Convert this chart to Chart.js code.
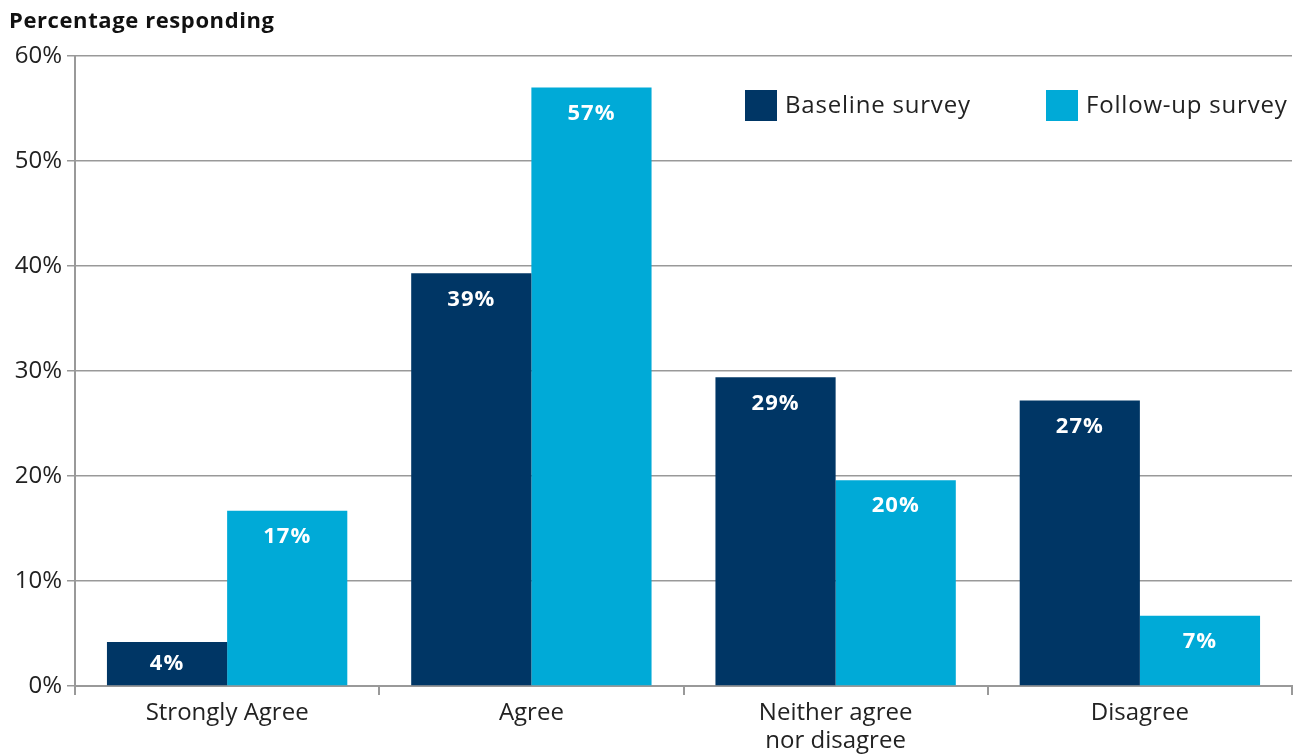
<!DOCTYPE html>
<html>
<head>
<meta charset="utf-8">
<script src="https://cdn.jsdelivr.net/npm/chart.js@4"></script>
<style>
  html, body { margin: 0; padding: 0; background: #fff; }
  #wrap { width: 1301px; height: 754px; }
</style>
</head>
<body>
<div id="wrap"><canvas id="surveyChart" width="1301" height="754"></canvas></div>
<script>
const categories = ["Strongly Agree", "Agree", ["Neither agree", "nor disagree"], "Disagree"];
const baseline = [4.2, 39.3, 29.4, 27.2];
const followUp = [16.7, 57.0, 19.6, 6.7];
const yTicks = [0, 10, 20, 30, 40, 50, 60];

const FONT = "'Open Sans', sans-serif";

// white value labels inside bar tops
const valueLabels = {
  id: "valueLabels",
  afterDatasetsDraw(chart) {
    const ctx = chart.ctx;
    ctx.save();
    ctx.fillStyle = "#fff";
    ctx.font = "bold 22px " + FONT;
    ctx.letterSpacing = "1px";
    ctx.textAlign = "center";
    ctx.textBaseline = "middle";
    chart.data.datasets.forEach((ds, i) => {
      chart.getDatasetMeta(i).data.forEach((bar, j) => {
        const h = bar.base - bar.y;
        const y = bar.y + Math.min(26, h / 2);
        ctx.fillText(Math.round(ds.data[j]) + "%", bar.x, y);
      });
    });
    ctx.restore();
  }
};

// title + legend drawn by hand
const extras = {
  id: "extras",
  afterDraw(chart) {
    const ctx = chart.ctx;
    ctx.save();
    ctx.fillStyle = "#111";
    ctx.font = "bold 22px " + FONT;
    ctx.letterSpacing = "0.6px";
    ctx.textBaseline = "middle";
    ctx.textAlign = "left";
    ctx.fillText("Percentage responding", 9, 22);

    const items = [
      { x: 745, ds: chart.data.datasets[0] },
      { x: 1046, ds: chart.data.datasets[1] }
    ];
    ctx.font = "24px " + FONT;
    ctx.letterSpacing = "0.8px";
    items.forEach(it => {
      ctx.fillStyle = it.ds.backgroundColor;
      ctx.fillRect(it.x, 90, 32, 31);
      ctx.fillStyle = "#222";
      ctx.fillText(it.ds.label, it.x + 40, 106);
    });
    ctx.restore();
  }
};

new Chart(document.getElementById("surveyChart"), {
  type: "bar",
  data: {
    labels: categories,
    datasets: [
      {
        label: "Baseline survey",
        data: baseline,
        backgroundColor: "#003665",
        categoryPercentage: 0.79,
        barPercentage: 1.0
      },
      {
        label: "Follow-up survey",
        data: followUp,
        backgroundColor: "#00AAD7",
        categoryPercentage: 0.79,
        barPercentage: 1.0
      }
    ]
  },
  options: {
    responsive: false,
    animation: false,
    layout: { padding: { top: 56, right: 9, left: 0, bottom: 0 } },
    scales: {
      x: {
        grid: {
          offset: true,
          drawOnChartArea: false,
          tickLength: 9,
          color: "#999",
          lineWidth: 2
        },
        border: { color: "#999", width: 2 },
        ticks: {
          color: "#222",
          font: { family: FONT, size: 24, lineHeight: 1.17 },
          padding: 4,
          maxRotation: 0
        },
        afterFit(scale) { scale.height = 68; }
      },
      y: {
        min: 0,
        max: 60,
        afterBuildTicks(scale) {
          scale.ticks = yTicks.map(v => ({ value: v }));
        },
        grid: {
          color: "#999",
          lineWidth: 1.5,
          tickLength: 8
        },
        border: { color: "#999", width: 2 },
        ticks: {
          color: "#222",
          font: { family: FONT, size: 24 },
          padding: 5,
          callback: v => v + "%"
        },
        afterFit(scale) { scale.width = 75; }
      }
    },
    plugins: {
      legend: { display: false },
      tooltip: { enabled: false }
    }
  },
  plugins: [valueLabels, extras]
});
</script>
</body>
</html>
